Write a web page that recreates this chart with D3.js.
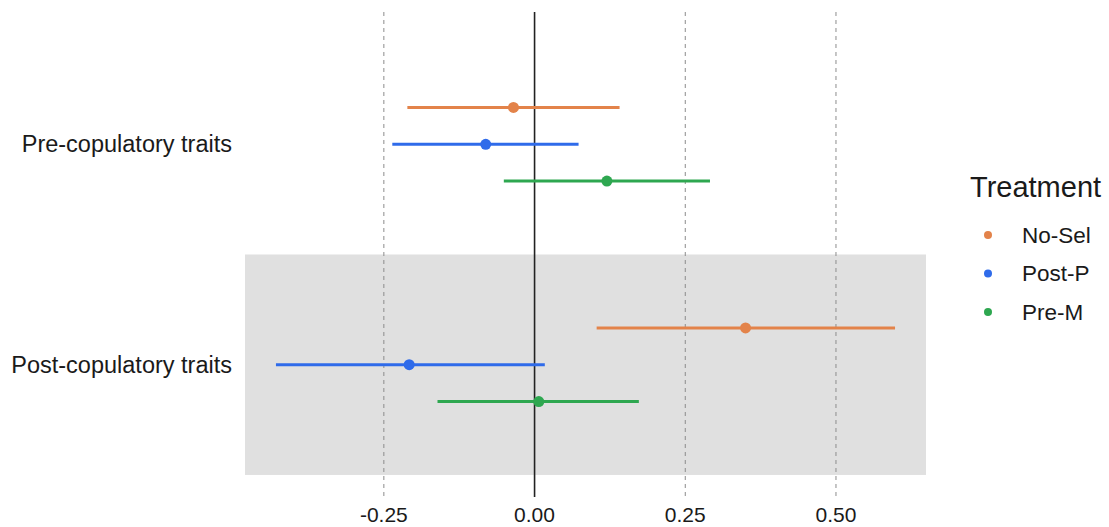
<!DOCTYPE html>
<html>
<head>
<meta charset="utf-8">
<script src="https://cdn.jsdelivr.net/npm/d3@7"></script>
<style>
  body { margin: 0; background: #fff; }
  text { font-family: "Liberation Sans", Arial, sans-serif; fill: #1a1a1a; }
</style>
</head>
<body>
<div id="chart"></div>
<script>
// Trait groups (bottom to top, as ggplot orders them)
const traits = ["Post-copulatory traits", "Pre-copulatory traits"];
const treatments = ["No-Sel", "Post-P", "Pre-M"];
const colours = ["#E3834A", "#2F6BEA", "#2EA750"];

// Estimates and intervals, one array per treatment, in the order of traits
const estimate = {
  "No-Sel": [0.350, -0.035],
  "Post-P": [-0.208, -0.081],
  "Pre-M":  [0.007, 0.120]
};
const lower = {
  "No-Sel": [0.103, -0.211],
  "Post-P": [-0.429, -0.236],
  "Pre-M":  [-0.161, -0.051]
};
const upper = {
  "No-Sel": [0.598, 0.141],
  "Post-P": [0.017, 0.073],
  "Pre-M":  [0.173, 0.291]
};
const xTicks = [-0.25, 0, 0.25, 0.5];

const W = 1109, H = 527;
const panel = { left: 245, right: 926, top: 12, bottom: 497 };

const svg = d3.select("#chart").append("svg")
  .attr("width", W).attr("height", H);

// Flatten to rows
const rows = [];
treatments.forEach((t, ti) => {
  traits.forEach((g, gi) => {
    rows.push({ treatment: t, ti, trait: g, gi,
      est: estimate[t][gi], lo: lower[t][gi], hi: upper[t][gi] });
  });
});

// x scale with 5% expansion like ggplot
const ext = [d3.min(rows, d => d.lo), d3.max(rows, d => d.hi)];
const pad = (ext[1] - ext[0]) * 0.05;
const x = d3.scaleLinear().domain([ext[0] - pad, ext[1] + pad])
  .range([panel.left, panel.right]);

// y: categories at 1..n, expanded by 0.6
const y = d3.scaleLinear().domain([0.4, traits.length + 0.6])
  .range([panel.bottom, panel.top]);
const dodge = 0.167;
const color = d3.scaleOrdinal().domain(treatments).range(colours);

// shaded band behind post-copulatory traits
svg.append("rect")
  .attr("x", panel.left)
  .attr("width", panel.right - panel.left)
  .attr("y", y(1.5))
  .attr("height", y(0.5) - y(1.5))
  .attr("fill", "#E0E0E0");

// dashed gridlines
svg.selectAll(".grid")
  .data(xTicks.filter(d => d !== 0))
  .enter().append("line")
  .attr("class", "grid")
  .attr("x1", d => x(d)).attr("x2", d => x(d))
  .attr("y1", panel.top).attr("y2", panel.bottom)
  .attr("stroke", "#8c8c8c")
  .attr("stroke-width", 1)
  .attr("stroke-dasharray", "4,4");

// zero line
svg.append("line")
  .attr("x1", x(0)).attr("x2", x(0))
  .attr("y1", panel.top).attr("y2", panel.bottom)
  .attr("stroke", "#222")
  .attr("stroke-width", 1.6);

const yPos = d => y(d.gi + 1 + (1 - d.ti) * dodge);

// error bars
svg.selectAll(".bar")
  .data(rows)
  .enter().append("line")
  .attr("class", "bar")
  .attr("x1", d => x(d.lo)).attr("x2", d => x(d.hi))
  .attr("y1", yPos).attr("y2", yPos)
  .attr("stroke", d => color(d.treatment))
  .attr("stroke-width", 3);

// points
svg.selectAll(".dot")
  .data(rows)
  .enter().append("circle")
  .attr("class", "dot")
  .attr("cx", d => x(d.est))
  .attr("cy", yPos)
  .attr("r", 5.5)
  .attr("fill", d => color(d.treatment));

// x axis labels (plain hyphen for negatives, as in the original)
svg.selectAll(".xlab")
  .data(xTicks)
  .enter().append("text")
  .attr("class", "xlab")
  .attr("x", d => x(d))
  .attr("y", 522)
  .attr("text-anchor", "middle")
  .style("font-size", "21px")
  .text(d => d3.format(".2f")(d).replace("\u2212", "-"));

// y axis labels
svg.selectAll(".ylab")
  .data(traits)
  .enter().append("text")
  .attr("class", "ylab")
  .attr("x", 232)
  .attr("y", (d, i) => y(i + 1))
  .attr("dy", "0.35em")
  .attr("text-anchor", "end")
  .style("font-size", "23.5px")
  .text(d => d);

// legend
const legend = svg.append("g").attr("transform", "translate(970,0)");
legend.append("text")
  .attr("x", 0).attr("y", 197)
  .style("font-size", "29px")
  .text("Treatment");
const items = legend.selectAll(".item")
  .data(treatments)
  .enter().append("g")
  .attr("transform", (d, i) => `translate(0,${235 + i * 38.5})`);
items.append("circle")
  .attr("cx", 18).attr("cy", 0).attr("r", 4)
  .attr("fill", d => color(d));
items.append("text")
  .attr("x", 52).attr("y", 0).attr("dy", "0.35em")
  .style("font-size", "22.5px")
  .text(d => d);
</script>
</body>
</html>
